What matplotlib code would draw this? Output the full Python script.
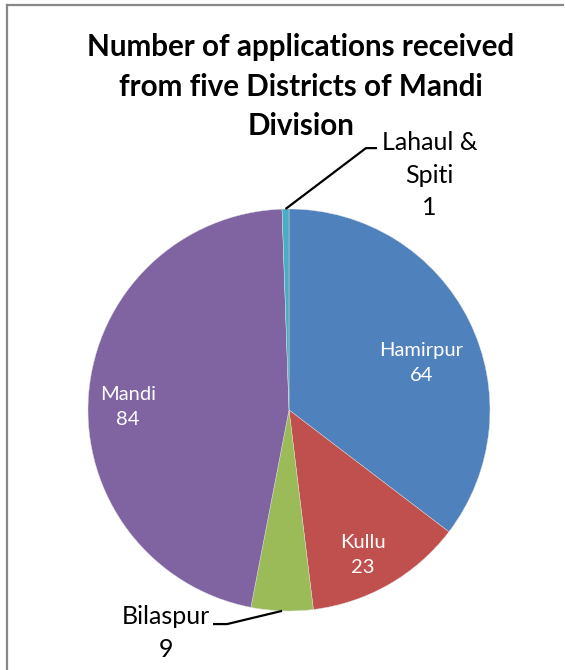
import numpy as np
import matplotlib.pyplot as plt
from matplotlib.lines import Line2D

districts = ["Hamirpur", "Kullu", "Bilaspur", "Mandi", "Lahaul &\nSpiti"]
applications = [64, 23, 9, 84, 1]
colors = ["#4F81BD", "#C0504D", "#9BBB59", "#8064A2", "#4BACC6"]
title_lines = ["Number of applications received", "from five Districts of Mandi", "Division"]

plt.rcParams['font.family'] = ['Lato', 'DejaVu Sans']

W, H = 565, 670
fig = plt.figure(figsize=(W / 100, H / 100), dpi=100)

# grey chart frame (only left and top edges are visible in the original)
fig.add_artist(Line2D([7 / W, 7 / W], [0, 1 - 5 / H], color="#888888", lw=1.6))
fig.add_artist(Line2D([7 / W, 563 / W], [1 - 5 / H, 1 - 5 / H], color="#888888", lw=1.6))

# title, one text per line so each box stays tight
for k, line in enumerate(title_lines):
    fig.text(301 / W, 1 - (47 + 39.5 * k) / H, line, ha="center", va="center",
             fontsize=21.3, fontweight="bold")

cx, cy, r = 289, 410, 201
ax = fig.add_axes([(cx - r) / W, 1 - (cy + r) / H, 2 * r / W, 2 * r / H])
wedges, _ = ax.pie(applications, colors=colors, startangle=90, counterclock=False,
                   radius=1, wedgeprops=dict(linewidth=0.3, edgecolor="#e0e0e0"))
ax.set_xlim(-1, 1)
ax.set_ylim(-1, 1)
ax.set_aspect("equal")
ax.axis("off")

mids = [np.deg2rad((w.theta1 + w.theta2) / 2) for w in wedges]

# labels inside slices: (distance from centre, angle shift in degrees)
inside = {0: (0.70, -6.8), 1: (0.81, -2.9), 3: (0.80, 3.3)}
for i, (dist, shift) in inside.items():
    a = mids[i] + np.deg2rad(shift)
    ax.text(dist * np.cos(a), dist * np.sin(a), f"{districts[i]}\n{applications[i]}",
            ha="center", va="center", color="white", fontsize=14.5, linespacing=1.58)

# outside labels with leader lines: elbow, end of horizontal, text centre
outside = {4: ((0.383, 1.303), 0.438, (0.70, 1.169)),
           2: ((-0.308, -1.065), -0.378, (-0.614, -1.109))}
for i, ((ex, ey), hx, (tx, ty)) in outside.items():
    px, py = np.cos(mids[i]), np.sin(mids[i])
    ax.plot([px, ex, hx], [py, ey, ey], color="black", lw=1.6,
            clip_on=False, solid_capstyle="butt")
    ax.text(tx, ty, f"{districts[i]}\n{applications[i]}", ha="center", va="center",
            color="black", fontsize=18, linespacing=1.5, clip_on=False)

fig.savefig("out.png", dpi=100)
